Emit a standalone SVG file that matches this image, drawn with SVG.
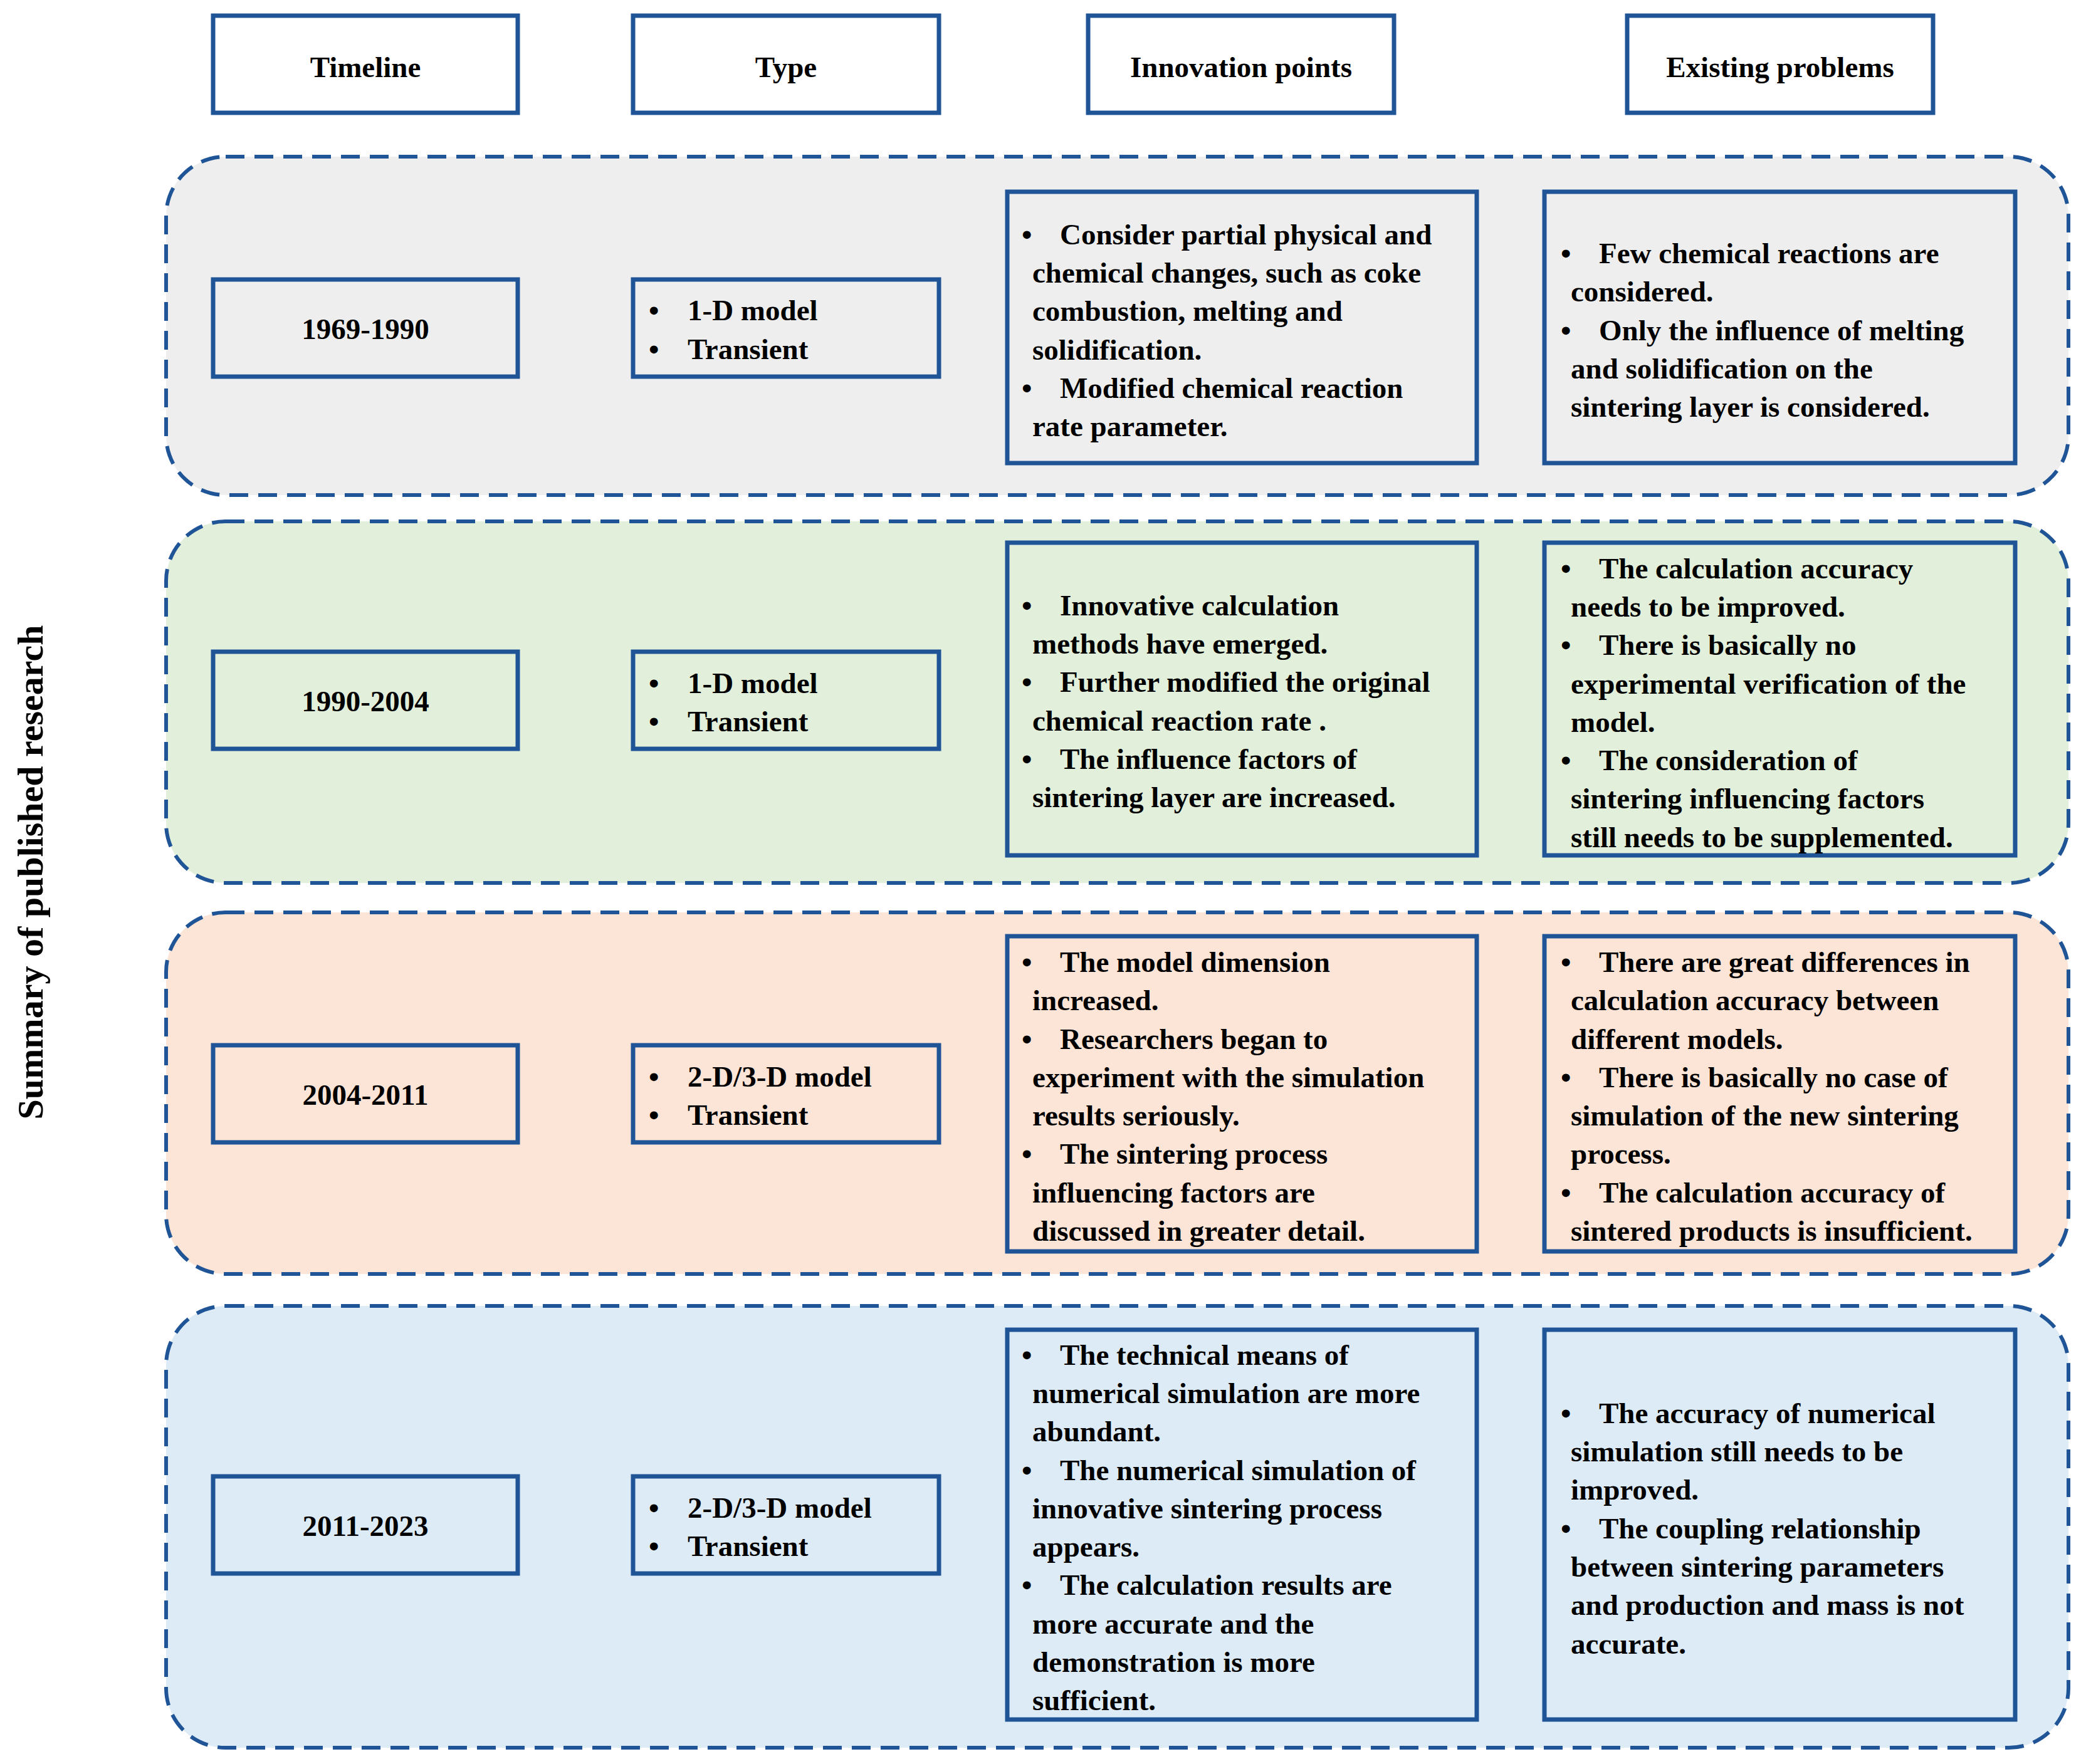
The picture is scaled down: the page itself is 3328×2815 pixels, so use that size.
<svg xmlns="http://www.w3.org/2000/svg" width="3328" height="2815" viewBox="0 0 3328 2815">
<style>
text{font-family:"Liberation Serif","Times New Roman",serif;font-weight:bold;font-size:47px;fill:#000}
.box{fill:none;stroke:#1f5497;stroke-width:7}
.band{stroke:#1f5497;stroke-width:6;stroke-dasharray:30,16}
.c{text-anchor:middle}
</style>
<rect width="3328" height="2815" fill="#fff"/>
<text class="c" transform="translate(68,1392) rotate(-90)" style="font-size:58px">Summary of published research</text>
<g id="headers">
<rect class="box" x="340" y="25" width="486" height="155"/><text class="c" x="583" y="123">Timeline</text>
<rect class="box" x="1010" y="25" width="488" height="155"/><text class="c" x="1254" y="123">Type</text>
<rect class="box" x="1736" y="25" width="488" height="155"/><text class="c" x="1980" y="123">Innovation points</text>
<rect class="box" x="2596" y="25" width="488" height="155"/><text class="c" x="2840" y="123">Existing problems</text>
</g>
<g id="band1">
<rect class="band" x="265" y="250" width="3035" height="540" rx="95" fill="#eeeeee"/>
<rect class="box" x="340" y="446" width="486" height="155"/><text class="c" x="583" y="541">1969-1990</text>
<rect class="box" x="1010" y="446" width="488" height="155"/>
<text x="1035" y="511">•</text><text x="1097" y="511">1-D model</text>
<text x="1035" y="573">•</text><text x="1097" y="573">Transient</text>
<rect class="box" x="1607" y="306" width="749" height="433"/>
<text x="1630" y="390">•</text><text x="1691" y="390">Consider partial physical and</text>
<text x="1647" y="451">chemical changes, such as coke</text>
<text x="1647" y="512">combustion, melting and</text>
<text x="1647" y="574">solidification.</text>
<text x="1630" y="635">•</text><text x="1691" y="635">Modified chemical reaction</text>
<text x="1647" y="696">rate parameter.</text>
<rect class="box" x="2464" y="306" width="751" height="433"/>
<text x="2490" y="420">•</text><text x="2551" y="420">Few chemical reactions are</text>
<text x="2506" y="481">considered.</text>
<text x="2490" y="543">•</text><text x="2551" y="543">Only the influence of melting</text>
<text x="2506" y="604">and solidification on the</text>
<text x="2506" y="665">sintering layer is considered.</text>
</g>
<g id="band2">
<rect class="band" x="265" y="832" width="3035" height="577" rx="95" fill="#e2efda"/>
<rect class="box" x="340" y="1040" width="486" height="155"/><text class="c" x="583" y="1135">1990-2004</text>
<rect class="box" x="1010" y="1040" width="488" height="155"/>
<text x="1035" y="1106">•</text><text x="1097" y="1106">1-D model</text>
<text x="1035" y="1167">•</text><text x="1097" y="1167">Transient</text>
<rect class="box" x="1607" y="866" width="749" height="499"/>
<text x="1630" y="982">•</text><text x="1691" y="982">Innovative calculation</text>
<text x="1647" y="1043">methods have emerged.</text>
<text x="1630" y="1104">•</text><text x="1691" y="1104">Further modified the original</text>
<text x="1647" y="1166">chemical reaction rate .</text>
<text x="1630" y="1227">•</text><text x="1691" y="1227">The influence factors of</text>
<text x="1647" y="1288">sintering layer are increased.</text>
<rect class="box" x="2464" y="866" width="751" height="499"/>
<text x="2490" y="923">•</text><text x="2551" y="923">The calculation accuracy</text>
<text x="2506" y="984">needs to be improved.</text>
<text x="2490" y="1045">•</text><text x="2551" y="1045">There is basically no</text>
<text x="2506" y="1107">experimental verification of the</text>
<text x="2506" y="1168">model.</text>
<text x="2490" y="1229">•</text><text x="2551" y="1229">The consideration of</text>
<text x="2506" y="1290">sintering influencing factors</text>
<text x="2506" y="1352">still needs to be supplemented.</text>
</g>
<g id="band3">
<rect class="band" x="265" y="1456" width="3035" height="577" rx="95" fill="#fce4d6"/>
<rect class="box" x="340" y="1668" width="486" height="155"/><text class="c" x="583" y="1763">2004-2011</text>
<rect class="box" x="1010" y="1668" width="488" height="155"/>
<text x="1035" y="1734">•</text><text x="1097" y="1734">2-D/3-D model</text>
<text x="1035" y="1795">•</text><text x="1097" y="1795">Transient</text>
<rect class="box" x="1607" y="1494" width="749" height="503"/>
<text x="1630" y="1551">•</text><text x="1691" y="1551">The model dimension</text>
<text x="1647" y="1612">increased.</text>
<text x="1630" y="1674">•</text><text x="1691" y="1674">Researchers began to</text>
<text x="1647" y="1735">experiment with the simulation</text>
<text x="1647" y="1796">results seriously.</text>
<text x="1630" y="1857">•</text><text x="1691" y="1857">The sintering process</text>
<text x="1647" y="1919">influencing factors are</text>
<text x="1647" y="1980">discussed in greater detail.</text>
<rect class="box" x="2464" y="1494" width="751" height="503"/>
<text x="2490" y="1551">•</text><text x="2551" y="1551">There are great differences in</text>
<text x="2506" y="1612">calculation accuracy between</text>
<text x="2506" y="1674">different models.</text>
<text x="2490" y="1735">•</text><text x="2551" y="1735">There is basically no case of</text>
<text x="2506" y="1796">simulation of the new sintering</text>
<text x="2506" y="1857">process.</text>
<text x="2490" y="1919">•</text><text x="2551" y="1919">The calculation accuracy of</text>
<text x="2506" y="1980">sintered products is insufficient.</text>
</g>
<g id="band4">
<rect class="band" x="265" y="2084" width="3035" height="705" rx="95" fill="#ddebf7"/>
<rect class="box" x="340" y="2356" width="486" height="155"/><text class="c" x="583" y="2451">2011-2023</text>
<rect class="box" x="1010" y="2356" width="488" height="155"/>
<text x="1035" y="2422">•</text><text x="1097" y="2422">2-D/3-D model</text>
<text x="1035" y="2483">•</text><text x="1097" y="2483">Transient</text>
<rect class="box" x="1607" y="2122" width="749" height="622"/>
<text x="1630" y="2178">•</text><text x="1691" y="2178">The technical means of</text>
<text x="1647" y="2239">numerical simulation are more</text>
<text x="1647" y="2300">abundant.</text>
<text x="1630" y="2362">•</text><text x="1691" y="2362">The numerical simulation of</text>
<text x="1647" y="2423">innovative sintering process</text>
<text x="1647" y="2484">appears.</text>
<text x="1630" y="2545">•</text><text x="1691" y="2545">The calculation results are</text>
<text x="1647" y="2607">more accurate and the</text>
<text x="1647" y="2668">demonstration is more</text>
<text x="1647" y="2729">sufficient.</text>
<rect class="box" x="2464" y="2122" width="751" height="622"/>
<text x="2490" y="2271">•</text><text x="2551" y="2271">The accuracy of numerical</text>
<text x="2506" y="2332">simulation still needs to be</text>
<text x="2506" y="2393">improved.</text>
<text x="2490" y="2455">•</text><text x="2551" y="2455">The coupling relationship</text>
<text x="2506" y="2516">between sintering parameters</text>
<text x="2506" y="2577">and production and mass is not</text>
<text x="2506" y="2639">accurate.</text>
</g>
<g id="connectors"></g>
</svg>
